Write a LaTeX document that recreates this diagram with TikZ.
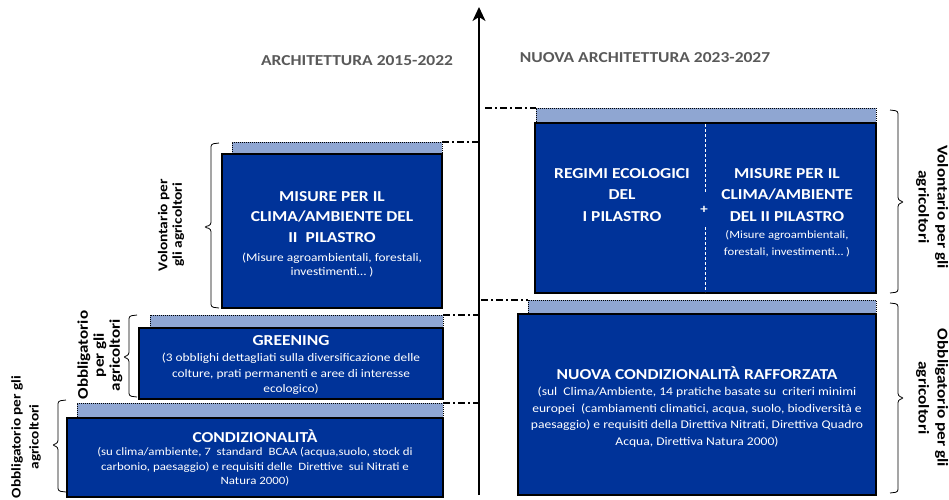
\documentclass[tikz,border=0pt]{standalone}
\usepackage{fontspec}
\setmainfont[FakeStretch=1.15]{Carlito}
\usetikzlibrary{arrows.meta}
\definecolor{boxblue}{RGB}{0,51,153}
\definecolor{striplight}{RGB}{143,166,210}
\definecolor{titlegray}{RGB}{89,89,89}
\tikzset{
  darkbox/.style={fill=boxblue, draw=black, line width=2pt, anchor=north west, inner sep=0pt, outer sep=0pt},
  stripbox/.style={fill=striplight, draw=black, line width=1pt, dash pattern=on 1pt off 1pt, anchor=north west, inner sep=0pt, outer sep=0pt},
  dashdot/.style={draw=black, line width=1.2pt, dash pattern=on 7pt off 3pt on 2pt off 3pt},
  bracepath/.style={draw=black, line width=0.8pt, rounded corners=2.5pt},
  boxtext/.style={text=white, align=center, inner sep=0pt},
  headA/.style={boxtext, font=\fontsize{15.2}{20.5}\selectfont\bfseries},
  headB/.style={boxtext, font=\fontsize{15.2}{21.5}\selectfont\bfseries},
  sidelabel/.style={align=center, inner sep=0pt},
  titletext/.style={text=titlegray, inner sep=0pt, font=\fontsize{15.2}{18}\selectfont\bfseries},
  divider/.style={draw=white, line width=0.8pt, dash pattern=on 3pt off 2pt}
}
\begin{document}
\begin{tikzpicture}[x=1pt,y=-1pt]
\useasboundingbox (0,0) rectangle (949,499);

% axis
\coordinate (axbot) at (479,495);
\coordinate (axtop) at (479,7);
\draw[line width=2pt, -{Stealth[length=14pt,width=13pt,inset=4pt]}] (axbot) -- (axtop);

% titles
\node[titletext, anchor=base] (ltitle) at (357,65) {ARCHITETTURA 2015-2022};
\node[titletext, anchor=base] (rtitle) at (645,62) {NUOVA ARCHITETTURA 2023-2027};

% ---- left side ----
\node[stripbox, minimum width=210pt, minimum height=15pt] (lmstrip) at (232,142) {};
\node[darkbox, minimum width=220pt, minimum height=154pt] (lmbox) at (222,154) {};
\node[stripbox, minimum width=293pt, minimum height=16pt] (grstrip) at (150,315) {};
\node[darkbox, minimum width=304pt, minimum height=71pt] (grbox) at (139,328) {};
\node[stripbox, minimum width=366pt, minimum height=17pt] (cdstrip) at (77,403) {};
\node[darkbox, minimum width=376pt, minimum height=79pt] (cdbox) at (67,418) {};

\node[headA] (lmhead) at (332,217) {MISURE PER IL\\CLIMA/AMBIENTE DEL\\II\ \ PILASTRO};
\node[boxtext, font=\fontsize{11.6}{14.5}\selectfont] (lmbody) at (332,265) {(Misure agroambientali, forestali,\\investimenti… )};
\node[headA, anchor=base] (grhead) at (291,345) {GREENING};
\node[boxtext, font=\fontsize{11.6}{15.5}\selectfont] (grbody) at (291,374) {(3 obblighi dettagliati sulla diversificazione delle\\colture, prati permanenti e aree di interesse\\ecologico)};
\node[headA, anchor=base] (cdhead) at (255,442) {CONDIZIONALITÀ};
\node[boxtext, font=\fontsize{11.2}{14.5}\selectfont] (cdbody) at (255,467) {(su clima/ambiente, 7\ \ standard\ \ BCAA (acqua,suolo, stock di\\carbonio, paesaggio) e requisiti delle\ \ Direttive\ \ sui Nitrati e\\Natura 2000)};

% ---- right side ----
\node[stripbox, minimum width=340pt, minimum height=17pt] (rtstrip) at (536,108) {};
\node[darkbox, minimum width=341pt, minimum height=170pt] (rtbox) at (535,123) {};
\node[stripbox, minimum width=348pt, minimum height=16pt] (rbstrip) at (528,300) {};
\node[darkbox, minimum width=358pt, minimum height=181pt] (rbbox) at (518,314) {};

\coordinate (divtop) at (705,124);
\coordinate (divgapa) at (705,193);
\coordinate (divgapb) at (705,227);
\coordinate (divbot) at (705,292);
\draw[divider] (divtop) -- (divgapa);
\draw[divider] (divgapb) -- (divbot);
\node[text=white, inner sep=0pt, font=\fontsize{13}{15}\selectfont\bfseries] (plus) at (704,210) {+};

\node[headB] (reghead) at (622,195) {REGIMI ECOLOGICI\\DEL\\I PILASTRO};
\node[headB] (rmhead) at (787,195) {MISURE PER IL\\CLIMA/AMBIENTE\\DEL II PILASTRO};
\node[boxtext, font=\fontsize{11}{17}\selectfont] (rmbody) at (787,244) {(Misure agroambientali,\\forestali, investimenti… )};
\node[headA, anchor=base] (nchead) at (697,379) {NUOVA CONDIZIONALITÀ RAFFORZATA};
\node[boxtext, font=\fontsize{11.8}{16.5}\selectfont] (ncbody) at (697,417) {(sul\ \ Clima/Ambiente, 14 pratiche basate su\ \ criteri minimi\\europei\ \ (cambiamenti climatici, acqua, suolo, biodiversità e\\paesaggio) e requisiti della Direttiva Nitrati, Direttiva Quadro\\Acqua, Direttiva Natura 2000)};

% ---- dash-dot guides ----
\draw[dashdot] (lmstrip.north east) -- (lmstrip.north east -| axbot);
\draw[dashdot] (grstrip.north east) -- (grstrip.north east -| axbot);
\draw[dashdot] (cdstrip.north east) -- (cdstrip.north east -| axbot);
\draw[dashdot] (rtstrip.north west -| axbot) ++(6,0) -- (rtstrip.north west);
\draw[dashdot] (rbstrip.north west -| axbot) ++(2,0) -- (rbstrip.north west);

% ---- braces ----
\draw[bracepath] (219,143) -- (211,144) -- (211,225) -- (204,227) -- (211,229) -- (211,307) -- (219,308);
\draw[bracepath] (137,315) -- (129,316) -- (129,355) -- (123,357) -- (129,359) -- (129,396) -- (137,397);
\draw[bracepath] (66,400) -- (58,401) -- (58,443) -- (52,445) -- (58,447) -- (58,491) -- (66,492);
\draw[bracepath] (890,110) -- (898,111) -- (898,200) -- (904,202) -- (898,204) -- (898,292) -- (890,293);
\draw[bracepath] (890,303) -- (898,304) -- (898,396) -- (904,398) -- (898,400) -- (898,492) -- (890,493);

% ---- side labels ----
\node[sidelabel, rotate=90, font=\fontsize{13.4}{14.5}\selectfont\bfseries] (lvol) at (171,225) {Volontario per\\gli agricoltori};
\node[sidelabel, rotate=90, font=\fontsize{14.8}{16}\selectfont\bfseries] (lgr) at (100,355) {Obbligatorio\\per gli\\agricoltori};
\node[sidelabel, rotate=90, font=\fontsize{13.3}{18}\selectfont\bfseries] (lcd) at (26,437) {Obbligatorio per gli\\agricoltori};
\node[sidelabel, rotate=-90, font=\fontsize{15}{19}\selectfont\bfseries] (rvol) at (932,207) {Volontario per gli\\agricoltori};
\node[sidelabel, rotate=-90, font=\fontsize{15}{19}\selectfont\bfseries] (robb) at (932,398) {Obbligatorio per gli\\agricoltori};
\end{tikzpicture}
\end{document}
